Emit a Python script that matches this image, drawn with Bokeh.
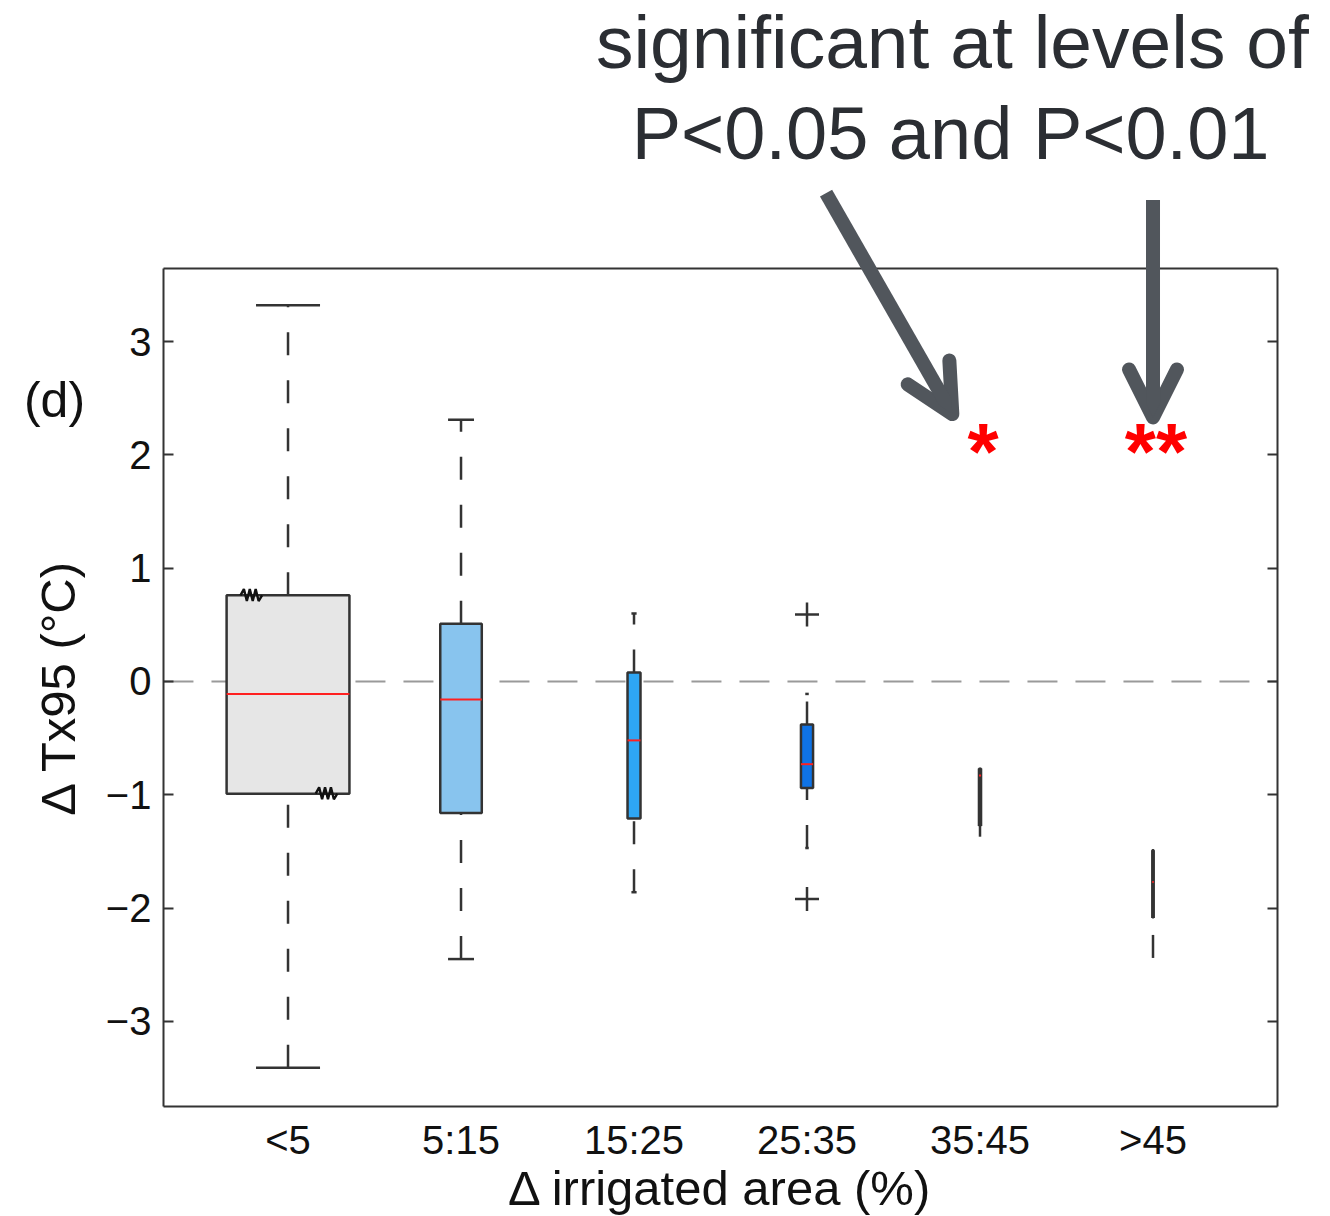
import numpy as np
from bokeh.plotting import figure
from bokeh.models import (Range1d, FixedTicker, LinearAxis, Label,
                          Arrow, OpenHead, ColumnDataSource)
from bokeh.core.properties import value
from bokeh.embed import file_html
from bokeh.resources import INLINE

# ---------------- data ----------------
categories = ["<5", "5:15", "15:25", "25:35", "35:45", ">45"]
whisker_lo = [-3.41, -2.45, -1.86, -1.47, -1.37, -2.44]
q1 = [-0.99, -1.16, -1.21, -0.94, -1.27, -2.08]
median = [-0.11, -0.16, -0.52, -0.73, -0.83, -1.77]
q3 = [0.76, 0.51, 0.08, -0.38, -0.77, -1.49]
whisker_hi = [3.32, 2.31, 0.60, -0.11, -0.77, -1.49]
box_width = [0.71, 0.24, 0.075, 0.07, 0.012, 0.008]
box_fill = ["#e6e6e6", "#88c4ee", "#2ea6f4", "#0f73e6", "#1f4e9a", "#2a2a40"]
outlier_cat = [4, 4]
outlier_val = [0.59, -1.92]
notch_cat = [1, 1]
notch_shift = [-0.21, 0.225]
notch_val = [0.76, -0.99]
signif_cat = [5, 6]
signif_mark = ["*", "**"]
signif_y = [2.14, 2.14]
y_ticks = [-3, -2, -1, 0, 1, 2, 3]
y_tick_labels = ["\u22123", "\u22122", "\u22121", "0", "1", "2", "3"]
x_lim = (0.28, 6.72)      # axes box limits
y_lim = (-3.75, 3.645)

FONT = "Liberation Sans"
DARK = "#333333"
TXT = "#111111"

x = np.arange(1, len(categories) + 1)
bw = np.array(box_width)

# the plotting frame covers the whole canvas; axes are pinned to the box limits
p = figure(width=1330, height=1216, output_backend="svg", toolbar_location=None,
           x_range=Range1d(-0.662, 7.026), y_range=Range1d(-4.722, 6.010),
           min_border_left=0, min_border_right=0, min_border_top=0,
           min_border_bottom=0, background_fill_color="white",
           border_fill_color="white")
p.xgrid.visible = False
p.ygrid.visible = False
p.outline_line_color = None


def style_axis(ax):
    ax.minor_tick_in = 0
    ax.minor_tick_out = 0
    ax.major_tick_out = 0
    ax.major_tick_line_color = DARK
    ax.major_tick_line_width = 2
    ax.axis_line_color = DARK
    ax.axis_line_width = 2
    ax.major_label_text_font = FONT
    ax.major_label_text_font_size = "40px"
    ax.major_label_text_color = TXT
    ax.axis_label_text_font = FONT
    ax.axis_label_text_font_style = "normal"
    ax.axis_label_text_color = TXT


# left y axis
ya = p.yaxis[0]
style_axis(ya)
ya.fixed_location = x_lim[0]
ya.bounds = y_lim
ya.ticker = FixedTicker(ticks=y_ticks)
ya.major_label_overrides = {t: l for t, l in zip(y_ticks, y_tick_labels)}
ya.major_tick_in = 10
ya.major_label_standoff = 12
ya.axis_label = "\u0394 Tx95 (\u00b0C)"
ya.axis_label_text_font_size = "49px"
ya.axis_label_standoff = 18

# bottom x axis
xa = p.xaxis[0]
style_axis(xa)
xa.fixed_location = y_lim[0]
xa.bounds = x_lim
xa.ticker = FixedTicker(ticks=list(x))
xa.major_label_overrides = {int(i): c for i, c in zip(x, categories)}
xa.major_tick_in = 0
xa.major_label_standoff = 12
xa.axis_label = "\u0394 irrigated area (%)"
xa.axis_label_text_font_size = "49px"
xa.axis_label_standoff = -5

# right axis (ticks only) and top axis (line only) close the box
ra = LinearAxis(fixed_location=x_lim[1], bounds=y_lim, ticker=FixedTicker(ticks=y_ticks),
                major_tick_in=10)
style_axis(ra)
ra.major_label_text_font_size = "0px"
ra.major_label_text_alpha = 0
p.add_layout(ra, "right")
ta = LinearAxis(fixed_location=y_lim[1], bounds=x_lim, ticker=FixedTicker(ticks=[]),
                major_tick_in=0)
style_axis(ta)
ta.major_label_text_font_size = "0px"
p.add_layout(ta, "above")

# zero line (behind boxes)
p.segment(x0=[x_lim[0]], y0=[0], x1=[x_lim[1]], y1=[0], line_color="#9a9a9a",
          line_width=2, line_dash="30 18")

# whiskers (drawn upward, dashed)
lo0 = np.array(whisker_lo); q1a = np.array(q1); q3a = np.array(q3); hi0 = np.array(whisker_hi)
p.segment(x0=x, y0=lo0, x1=x, y1=q1a, line_color=DARK, line_width=2.5, line_dash="23 25")
p.segment(x0=x, y0=q3a, x1=x, y1=hi0, line_color=DARK, line_width=2.5, line_dash="23 25")
# caps
cap = np.array([0.37, 0.15, 0.03, 0.02, 0.0, 0.0])
p.segment(x0=x - cap / 2, y0=lo0, x1=x + cap / 2, y1=lo0, line_color=DARK, line_width=2.5)
p.segment(x0=x - cap / 2, y0=hi0, x1=x + cap / 2, y1=hi0, line_color=DARK, line_width=2.5)

# boxes
src = ColumnDataSource(dict(x=x, w=bw, top=q3a, bottom=q1a, fill=box_fill))
p.vbar(x="x", width="w", top="top", bottom="bottom", source=src,
       fill_color="fill", line_color=DARK, line_width=2.5)
# medians
p.segment(x0=x - bw / 2, y0=median, x1=x + bw / 2, y1=median, line_color="#ff2020", line_width=2)

# outliers
p.scatter(outlier_cat, outlier_val, marker="cross", size=24, line_color=DARK, line_width=2.5)

# notch markers (zigzags)
zx_off = np.array([-0.065, -0.045, -0.028, -0.011, 0.006, 0.023, 0.04, 0.06])
zy_off = np.array([0.0, 0.055, -0.05, 0.055, -0.05, 0.055, -0.05, 0.0])
xs = [list(c + s + zx_off) for c, s in zip(notch_cat, notch_shift)]
ys = [list(v + zy_off) for v in notch_val]
p.multi_line(xs, ys, line_color=TXT, line_width=2.4)

# significance asterisks
p.text(x=signif_cat, y=signif_y, text=signif_mark, text_color="#ff0000",
       text_font=value(FONT), text_font_style="bold", text_font_size="80px",
       text_align="center", text_baseline="alphabetic", y_offset=13, x_offset=3)

# panel label
p.add_layout(Label(x=-0.35, y=2.48, text="(d)", text_font=FONT, text_font_size="50px",
                   text_color=TXT, text_align="center", text_baseline="middle"))

# annotation text
ANN = "#2b2e33"
p.add_layout(Label(x=4.84, y=5.64, text="significant at levels of", text_font=FONT,
                   text_font_size="75px", text_color=ANN, text_align="center",
                   text_baseline="alphabetic"))
p.add_layout(Label(x=4.83, y=4.84, text="P<0.05 and P<0.01", text_font=FONT,
                   text_font_size="74px", text_color=ANN, text_align="center",
                   text_baseline="alphabetic"))

# arrows pointing at the asterisks
ARC = "#51565c"
ax_start = [signif_cat[0] - 0.89, signif_cat[1] - 0.0]
ay_start = [signif_y[0] + 2.17, signif_y[1] + 2.11]
ax_end = [signif_cat[0] - 0.16, signif_cat[1] - 0.0]
ay_end = [signif_y[0] + 0.22, signif_y[1] + 0.19]
for i in range(2):
    p.add_layout(Arrow(end=OpenHead(size=48, line_color=ARC, line_width=14,
                                    line_cap="round", line_join="round"),
                       x_start=ax_start[i], y_start=ay_start[i],
                       x_end=ax_end[i], y_end=ay_end[i],
                       line_color=ARC, line_width=14, line_cap="butt"))

open("out.html", "w").write(file_html(p, INLINE))
